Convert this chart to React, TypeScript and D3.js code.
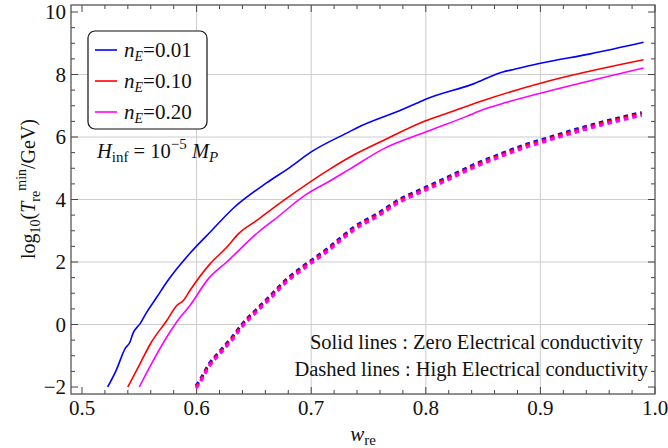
import React from "react";
import * as d3 from "d3";

const W = 668;
const H = 448;

const blueX = [0.5224,0.530,0.5376,0.542,0.5443,0.5507,0.5564,0.5652,0.574,0.5942,0.6132,0.632,0.661,0.6815,0.699,0.7339,0.7397,0.7775,0.792,0.7993,0.8415,0.868,0.874,0.900,0.9436,0.990];
const blueY = [-2,-1.45,-0.77,-0.55,-0.3,0.03,0.39,0.87,1.36,2.28,3.01,3.72,4.53,5.03,5.5,6.18,6.29,6.85,7.08,7.2,7.7,8.09,8.14,8.36,8.66,9.03];

const redX = [0.540,0.5507,0.560,0.574,0.5827,0.5885,0.5942,0.6117,0.6263,0.6364,0.6525,0.676,0.7166,0.7339,0.763,0.7993,0.821,0.8502,0.900,0.990];
const redY = [-2,-1.25,-0.6,0.13,0.61,0.77,1.09,1.94,2.47,2.9,3.33,3.97,4.98,5.36,5.89,6.51,6.79,7.17,7.72,8.47];

const magX = [0.550,0.560,0.574,0.585,0.5942,0.6102,0.6263,0.6553,0.667,0.696,0.7166,0.7339,0.763,0.7993,0.8356,0.8502,0.8705,0.900,0.990];
const magY = [-2,-1.3,-0.4,0.2,0.61,1.46,2.0,3.0,3.33,4.17,4.6,4.98,5.62,6.15,6.66,6.88,7.11,7.4,8.21];

const dashX = [0.5995,0.6015,0.6117,0.6204,0.6306,0.6408,0.6524,0.664,0.6786,0.6932,0.7135,0.7295,0.7367,0.757,0.7775,0.7993,0.8211,0.8429,0.8647,0.888,0.9025,0.9258,0.9491,0.9695,0.9884];
const dashBlueY = [-1.96,-1.86,-1.22,-0.85,-0.42,0.06,0.49,0.91,1.45,1.87,2.41,2.89,3.10,3.53,4.01,4.38,4.75,5.13,5.45,5.77,5.93,6.19,6.43,6.62,6.78];
const dashRedY = [-2,-1.9,-1.26,-0.89,-0.46,0.02,0.45,0.87,1.41,1.83,2.37,2.85,3.06,3.49,3.97,4.34,4.71,5.09,5.41,5.73,5.89,6.15,6.39,6.58,6.74];
const dashMagY = [-2.04,-1.94,-1.31,-0.94,-0.51,-0.03,0.40,0.82,1.36,1.78,2.32,2.80,3.01,3.44,3.92,4.29,4.66,5.04,5.36,5.68,5.84,6.10,6.34,6.53,6.69];

const xTicks = [0.5, 0.6, 0.7, 0.8, 0.9, 1.0];
const xTickLabels = ["0.5", "0.6", "0.7", "0.8", "0.9", "1.0"];
const yTicks = [-2, 0, 2, 4, 6, 8, 10];
const yTickLabels = ["\u22122", "0", "2", "4", "6", "8", "10"];
const xGrid = [0.6, 0.7, 0.8, 0.9];
const yGrid = [0, 2, 4, 6, 8];
const legendLabels = ["0.01", "0.10", "0.20"];
const colors = ["#0000ff", "#ff0000", "#ff00ff"];

const left = 71, right = 655, top = 5, bottom = 394;
const FONT = "Liberation Serif, Times New Roman, Times, DejaVu Serif, serif";

export default function App() {
  const x = d3.scaleLinear().domain([0.4904, 1.0]).range([left, right]);
  const y = d3.scaleLinear().domain([-2.224, 10.224]).range([bottom, top]);
  const line = d3
    .line<[number, number]>()
    .x((d) => x(d[0]))
    .y((d) => y(d[1]))
    .curve(d3.curveMonotoneX);
  const zip = (xs: number[], ys: number[]) => xs.map((v, i) => [v, ys[i]] as [number, number]);

  const minorX = d3.range(0, 26).map((i) => 0.5 + i * 0.02).filter((v) => v <= 1.0001);
  const minorY = d3.range(0, 25).map((i) => -2 + i * 0.5);

  const solids = [zip(blueX, blueY), zip(redX, redY), zip(magX, magY)];
  const dashes = [zip(dashX, dashBlueY), zip(dashX, dashRedY), zip(dashX, dashMagY)];

  return (
    <svg width={W} height={H} style={{ position: "absolute", left: 0, top: 0, fontFamily: FONT }}>
      <rect width={W} height={H} fill="#fff" />
      {xGrid.map((v) => (
        <line key={"gx" + v} x1={x(v)} x2={x(v)} y1={top} y2={bottom} stroke="#cccccc" strokeWidth={1} />
      ))}
      {yGrid.map((v) => (
        <line key={"gy" + v} x1={left} x2={right} y1={y(v)} y2={y(v)} stroke="#cccccc" strokeWidth={1} />
      ))}
      {minorX.map((v, i) => {
        const major = xTicks.some((t) => Math.abs(t - v) < 1e-6);
        const len = major ? 7 : 4;
        return (
          <g key={"tx" + i} stroke="#444" strokeWidth={1}>
            <line x1={x(v)} x2={x(v)} y1={bottom} y2={bottom - len} />
            <line x1={x(v)} x2={x(v)} y1={top} y2={top + len} />
          </g>
        );
      })}
      {minorY.map((v, i) => {
        const major = yTicks.some((t) => Math.abs(t - v) < 1e-6);
        const len = major ? 7 : 4;
        return (
          <g key={"ty" + i} stroke="#444" strokeWidth={1}>
            <line x1={left} x2={left + len} y1={y(v)} y2={y(v)} />
            <line x1={right} x2={right - len} y1={y(v)} y2={y(v)} />
          </g>
        );
      })}
      <clipPath id="plotclip">
        <rect x={left} y={top} width={right - left} height={bottom - top} />
      </clipPath>
      <g clipPath="url(#plotclip)">
        {dashes.map((d, i) => (
          <path key={"d" + i} d={line(d) || ""} fill="none" stroke={colors[i]} strokeWidth={3} strokeDasharray="4.5 4" />
        ))}
        {solids.map((d, i) => (
          <path key={"s" + i} d={line(d) || ""} fill="none" stroke={colors[i]} strokeWidth={1.6} />
        ))}
      </g>
      <rect x={left} y={top} width={right - left} height={bottom - top} fill="none" stroke="#555" strokeWidth={1.3} />
      {xTicks.map((v, i) => (
        <text key={"xl" + i} x={x(v)} y={415} fontSize={21} textAnchor="middle" fill="#111">
          {xTickLabels[i]}
        </text>
      ))}
      {yTicks.map((v, i) => (
        <text key={"yl" + i} x={66} y={y(v) + 7} fontSize={21} textAnchor="end" fill="#111">
          {yTickLabels[i]}
        </text>
      ))}
      <text x={(left + right) / 2} y={441} fontSize={21} textAnchor="middle" fill="#111">
        <tspan fontStyle="italic">w</tspan>
        <tspan fontSize={15} dy={4}>re</tspan>
      </text>
      <text transform={`translate(35,${189}) rotate(-90)`} fontSize={20} textAnchor="middle" fill="#111">
        <tspan>log</tspan>
        <tspan fontSize={14} dy={5}>10</tspan>
        <tspan dy={-5}>(</tspan>
        <tspan fontStyle="italic">T</tspan>
        <tspan fontSize={14} dy={5}>re</tspan>
        <tspan fontSize={14} dy={-14}>min</tspan>
        <tspan dy={9}>/GeV)</tspan>
      </text>
      <rect x={88} y={31} width={119} height={98} rx={7} fill="#fff" stroke="#111" strokeWidth={1.2} />
      {legendLabels.map((lab, i) => (
        <g key={"lg" + i}>
          <line x1={95} x2={117} y1={50 + i * 31} y2={50 + i * 31} stroke={colors[i]} strokeWidth={1.6} />
          <text x={124} y={57 + i * 31} fontSize={21} fill="#111">
            <tspan fontStyle="italic">n</tspan>
            <tspan fontStyle="italic" fontSize={14} dy={4}>E</tspan>
            <tspan dy={-4}>={lab}</tspan>
          </text>
        </g>
      ))}
      <text x={97} y={158} fontSize={20.5} fill="#111">
        <tspan fontStyle="italic">H</tspan>
        <tspan fontSize={15} dy={4}>inf</tspan>
        <tspan dy={-4}> = 10</tspan>
        <tspan fontSize={15} dy={-9}>{"\u22125"}</tspan>
        <tspan dy={9} fontStyle="italic"> M</tspan>
        <tspan fontSize={15} fontStyle="italic" dy={4}>P</tspan>
      </text>
      <text x={643} y={349} fontSize={20.5} textAnchor="end" fill="#111">
        Solid lines : Zero Electrical conductivity
      </text>
      <text x={648} y={376} fontSize={20.5} textAnchor="end" fill="#111">
        Dashed lines : High Electrical conductivity
      </text>
    </svg>
  );
}
